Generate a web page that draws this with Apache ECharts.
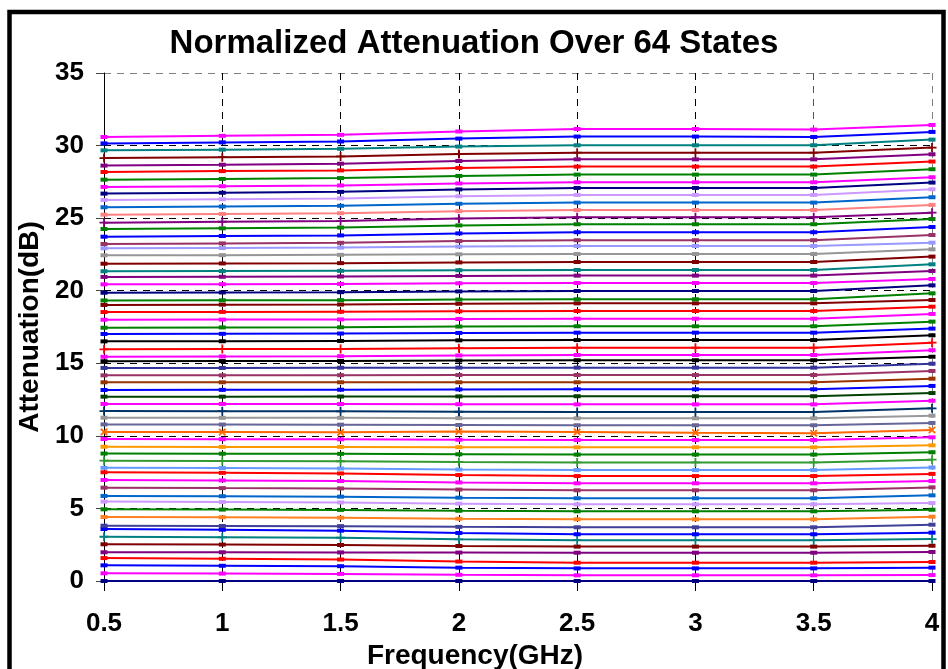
<!DOCTYPE html>
<html>
<head>
<meta charset="utf-8">
<script src="https://cdn.jsdelivr.net/npm/echarts@6/dist/echarts.min.js"></script>
<style>
html,body{margin:0;padding:0;background:#fff;}
#chart{width:948px;height:669px;}
</style>
</head>
<body>
<div id="chart"></div>
<script>
const categories = ['0.5','1','1.5','2','2.5','3','3.5','4'];
const yTicks = [0,5,10,15,20,25,30,35];

const state00 = [0,0,0,0,0,0,0,0];
const state01 = [0.53,0.51,0.49,0.43,0.39,0.39,0.39,0.41];
const state02 = [1.08,1.05,1.02,0.92,0.87,0.87,0.87,0.92];
const state03 = [1.58,1.53,1.48,1.34,1.26,1.26,1.26,1.31];
const state04 = [1.98,1.98,1.97,1.96,1.95,1.95,1.95,2.00];
const state05 = [2.53,2.51,2.48,2.41,2.37,2.37,2.37,2.43];
const state06 = [3.05,3.01,2.98,2.87,2.81,2.81,2.81,2.89];
const state07 = [3.58,3.53,3.47,3.31,3.22,3.22,3.22,3.33];
const state08 = [3.81,3.79,3.78,3.73,3.70,3.70,3.70,3.88];
const state09 = [4.41,4.39,4.36,4.29,4.25,4.25,4.25,4.43];
const state10 = [4.94,4.92,4.90,4.84,4.80,4.80,4.80,4.91];
const state11 = [5.47,5.44,5.41,5.33,5.28,5.28,5.28,5.37];
const state12 = [5.86,5.84,5.81,5.74,5.70,5.70,5.70,5.90];
const state13 = [6.43,6.40,6.38,6.30,6.25,6.25,6.25,6.45];
const state14 = [6.96,6.93,6.89,6.79,6.73,6.73,6.73,6.89];
const state15 = [7.49,7.45,7.41,7.30,7.23,7.23,7.23,7.38];
const state16 = [7.80,7.78,7.75,7.68,7.64,7.64,7.64,7.82];
const state17 = [8.29,8.27,8.25,8.20,8.17,8.17,8.17,8.36];
const state18 = [8.78,8.77,8.76,8.73,8.71,8.71,8.71,8.87];
const state19 = [9.25,9.24,9.24,9.22,9.21,9.21,9.21,9.35];
const state20 = [9.78,9.77,9.76,9.73,9.71,9.71,9.71,9.90];
const state21 = [10.27,10.26,10.24,10.30,10.27,10.22,10.18,10.40];
const state22 = [10.79,10.78,10.77,10.75,10.73,10.73,10.73,10.89];
const state23 = [11.25,11.24,11.24,11.22,11.21,11.21,11.21,11.39];
const state24 = [11.71,11.70,11.69,11.66,11.64,11.64,11.64,11.90];
const state25 = [12.20,12.20,12.19,12.18,12.17,12.17,12.17,12.42];
const state26 = [12.70,12.70,12.71,12.72,12.73,12.73,12.73,12.95];
const state27 = [13.16,13.17,13.18,13.20,13.21,13.21,13.21,13.44];
const state28 = [13.69,13.69,13.69,13.69,13.69,13.69,13.69,13.94];
const state29 = [14.17,14.17,14.18,14.19,14.19,14.19,14.19,14.47];
const state30 = [14.68,14.68,14.69,14.70,14.70,14.70,14.70,14.97];
const state31 = [15.14,15.15,15.16,15.19,15.21,15.21,15.21,15.45];
const state32 = [15.45,15.47,15.49,15.54,15.57,15.57,15.57,15.90];
const state33 = [15.96,15.98,15.99,16.04,16.07,16.07,16.07,16.42];
const state34 = [16.51,16.52,16.54,16.58,16.60,16.60,16.60,16.93];
const state35 = [17.02,17.03,17.05,17.09,17.11,17.11,17.11,17.39];
const state36 = [17.45,17.47,17.48,17.53,17.55,17.55,17.55,17.87];
const state37 = [18.00,18.01,18.02,18.05,18.07,18.07,18.07,18.40];
const state38 = [18.53,18.54,18.55,18.58,18.60,18.60,18.60,18.90];
const state39 = [19.02,19.04,19.05,19.10,19.13,19.13,19.13,19.36];
const state40 = [19.33,19.34,19.35,19.39,19.41,19.41,19.41,19.82];
const state41 = [19.86,19.88,19.90,19.95,19.98,19.98,19.98,20.37];
const state42 = [20.44,20.45,20.47,20.51,20.53,20.53,20.53,20.81];
const state43 = [20.95,20.96,20.98,21.02,21.04,21.04,21.04,21.36];
const state44 = [21.34,21.35,21.37,21.41,21.43,21.43,21.43,21.82];
const state45 = [21.86,21.88,21.90,21.95,21.98,21.98,21.98,22.35];
const state46 = [22.44,22.45,22.47,22.51,22.53,22.53,22.53,22.85];
const state47 = [22.92,22.94,22.97,23.04,23.08,23.08,23.08,23.31];
const state48 = [23.22,23.26,23.30,23.42,23.48,23.48,23.48,23.84];
const state49 = [23.72,23.77,23.81,23.95,24.03,24.03,24.03,24.39];
const state50 = [24.25,24.30,24.35,24.50,24.58,24.58,24.58,24.94];
const state51 = [24.69,24.75,24.80,24.97,25.06,25.06,25.06,25.38];
const state52 = [25.24,25.29,25.34,25.48,25.56,25.56,25.56,25.91];
const state53 = [25.75,25.80,25.85,25.99,26.07,26.07,26.07,26.44];
const state54 = [26.25,26.30,26.36,26.51,26.60,26.60,26.60,26.99];
const state55 = [26.69,26.75,26.81,26.98,27.08,27.08,27.08,27.45];
const state56 = [27.15,27.20,27.25,27.39,27.47,27.47,27.47,27.82];
const state57 = [27.65,27.70,27.76,27.91,28.00,28.00,28.00,28.37];
const state58 = [28.18,28.24,28.29,28.46,28.55,28.55,28.55,28.90];
const state59 = [28.62,28.68,28.75,28.94,29.05,29.05,29.05,29.40];
const state60 = [29.14,29.20,29.25,29.42,29.51,29.51,29.51,29.86];
const state61 = [29.67,29.72,29.78,29.93,30.02,30.02,30.02,30.41];
const state62 = [30.15,30.22,30.28,30.48,30.62,30.62,30.59,30.94];
const state63 = [30.59,30.67,30.74,30.97,31.14,31.14,31.10,31.42];

const states = [state00,state01,state02,state03,state04,state05,state06,state07,state08,state09,
  state10,state11,state12,state13,state14,state15,state16,state17,state18,state19,
  state20,state21,state22,state23,state24,state25,state26,state27,state28,state29,
  state30,state31,state32,state33,state34,state35,state36,state37,state38,state39,
  state40,state41,state42,state43,state44,state45,state46,state47,state48,state49,
  state50,state51,state52,state53,state54,state55,state56,state57,state58,state59,
  state60,state61,state62,state63];

const colors = ['#000080','#FF00FF','#0000FF','#FF0000','#800080','#800000','#008080','#0000FF','#404098','#FF8020',
  '#008000','#CC99FF','#0066CC','#993366','#FF00FF','#FF0000','#6699FF','#339933','#008000','#FF9900',
  '#FF00FF','#FF6600','#666699','#999999','#003366','#FF00FF','#004000','#0000FF','#993300','#993366',
  '#333399','#000000','#FF00FF','#FF0000','#000000','#0000FF','#008000','#FF00FF','#FF0000','#800000',
  '#008000','#000080','#FF00FF','#800080','#008080','#800000','#969696','#9999FF','#993366','#0000FF',
  '#008000','#800080','#FF8080','#0066CC','#CC99FF','#000080','#FF00FF','#008000','#FF0000','#800080',
  '#800000','#008080','#0000FF','#FF00FF'];
const plusStates = [6,17,24,33,51,60];
const crossStates = [21];

const PLUS = 'path://M4,0h2v4h4v2h-4v4h-2v-4h-4v-2h4z';
const FONT = '"Liberation Sans", Arial, sans-serif';

const series = states.map(function (vals, i) {
  const isPlus = plusStates.indexOf(i) >= 0;
  const isCross = crossStates.indexOf(i) >= 0;
  return {
    type: 'line',
    name: 'S' + i,
    data: vals,
    symbol: (isPlus || isCross) ? PLUS : 'rect',
    symbolSize: (isPlus || isCross) ? 9 : [7, 4],
    symbolRotate: isCross ? 45 : 0,
    showSymbol: true,
    color: colors[i],
    lineStyle: { width: 2, color: colors[i] },
    itemStyle: { color: colors[i] },
    z: 3,
    animation: false
  };
});

const chart = echarts.init(document.getElementById('chart'), null, { renderer: 'canvas' });
chart.setOption({
  animation: false,
  backgroundColor: '#fff',
  title: {
    text: 'Normalized Attenuation Over 64 States',
    left: 'center',
    top: 22,
    textStyle: { fontFamily: FONT, fontWeight: 'bold', fontSize: 33, color: '#000' }
  },
  grid: { left: 104, right: 16, top: 73, bottom: 88, containLabel: false, outerBoundsMode: 'none' },
  xAxis: {
    type: 'category',
    data: categories,
    boundaryGap: false,
    name: 'Frequency(GHz)',
    nameLocation: 'middle',
    nameGap: 53,
    nameTextStyle: { fontFamily: FONT, fontWeight: 'bold', fontSize: 28, color: '#000', padding: [0, 86, 0, 0] },
    axisLine: { show: true, lineStyle: { color: '#000', width: 1 } },
    axisTick: { show: true, length: 10, lineStyle: { color: '#000' } },
    axisLabel: { margin: 30, fontFamily: FONT, fontWeight: 'bold', fontSize: 26, color: '#000' },
    splitLine: { show: true, lineStyle: { type: [7, 6], width: 1,
      color: ['#000','#000','#000','#000','#000','#000','#555','#808080'] } }
  },
  yAxis: {
    type: 'value',
    min: yTicks[0],
    max: yTicks[yTicks.length - 1],
    interval: 5,
    name: 'Attenuation(dB)',
    nameLocation: 'middle',
    nameGap: 55,
    nameTextStyle: { fontFamily: FONT, fontWeight: 'bold', fontSize: 28, color: '#000' },
    axisLine: { show: true, lineStyle: { color: '#000', width: 1 } },
    axisTick: { show: true, length: 8, lineStyle: { color: '#444' } },
    axisLabel: { margin: 20, fontFamily: FONT, fontWeight: 'bold', fontSize: 26, color: '#000' },
    splitLine: { show: true, lineStyle: { type: [7, 6], width: 1,
      color: ['#000','#000','#000','#000','#000','#000','#000','#808080'] } }
  },
  graphic: [{
    type: 'rect',
    shape: { x: 9.5, y: 12, width: 934, height: 700 },
    style: { fill: 'none', stroke: '#000', lineWidth: 4.5 },
    z: 100
  }],
  series: series
});
</script>
</body>
</html>
